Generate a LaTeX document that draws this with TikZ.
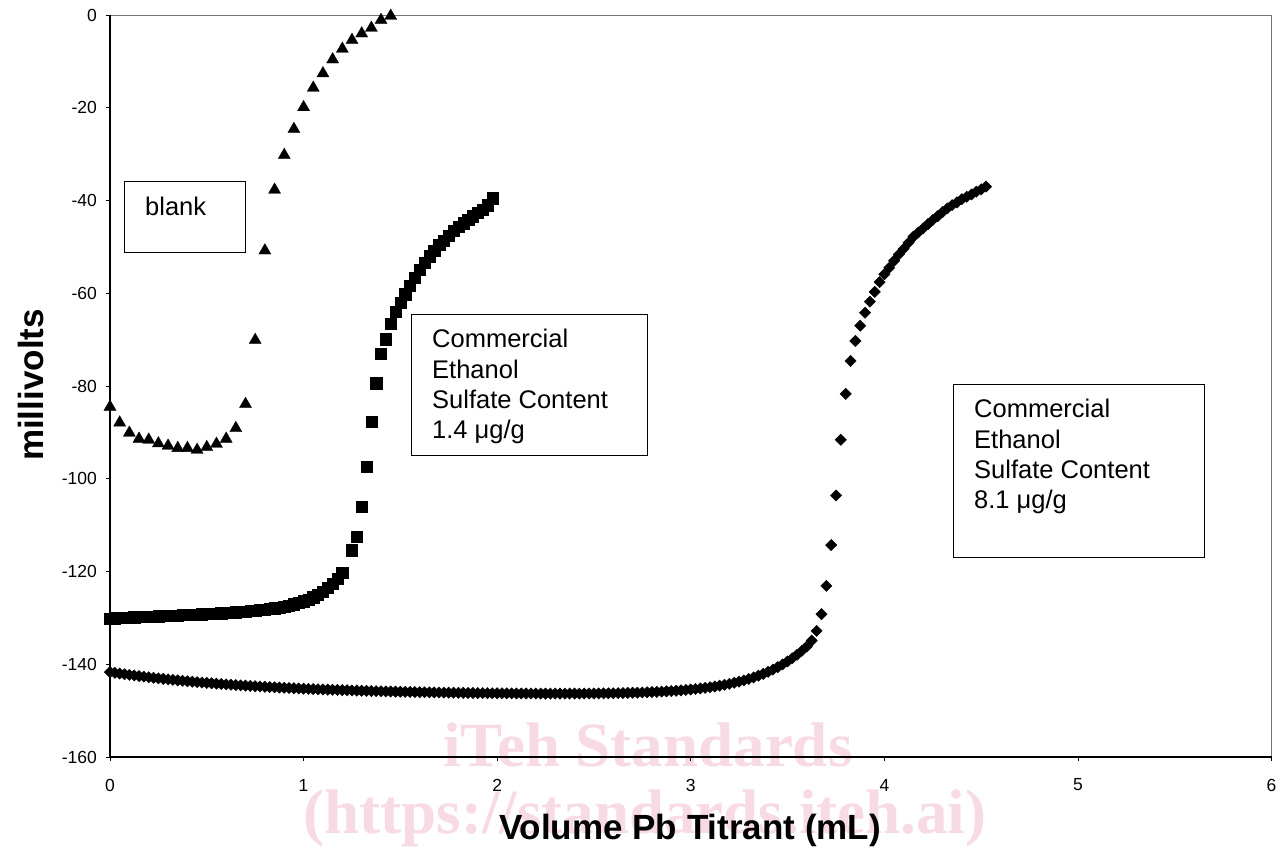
\documentclass[tikz,border=0pt]{standalone}
\usepackage{fontspec}
\setmainfont{Liberation Sans}
\newfontfamily\wmfont{Liberation Serif}
\usetikzlibrary{plotmarks}
\definecolor{wmpink}{RGB}{248,218,228}
\tikzset{
  ticklab/.style={font=\fontsize{17.5}{20}\selectfont, inner sep=0pt},
  axtitle/.style={font=\fontsize{35}{42}\selectfont\bfseries, inner sep=0pt},
  lbox/.style={draw=black, line width=1.1pt, anchor=north west, inner sep=0pt},
  lbtext/.style={font=\fontsize{25.5}{30}\selectfont, anchor=base west, inner sep=0pt},
  wm/.style={font=\fontsize{63}{70}\selectfont\wmfont\bfseries, text=wmpink, inner sep=0pt},
  trimark/.style={draw=black, fill=black, mark=triangle*, mark size=7pt, mark options={line width=0.3pt}},
  sqmark/.style={draw=black, fill=black, mark=square*, mark size=5.6pt, mark options={line width=0.4pt}},
  dimark/.style={draw=black, fill=black, mark=square*, mark size=4.0pt, mark options={rotate=45, line width=0.4pt}}
}
\begin{document}
\begin{tikzpicture}[x=1pt,y=1pt]
\useasboundingbox (0,0) rectangle (1283,851);
\fill[white] (0,0) rectangle (1283,851);

% watermark
\node[wm] (wm1) at (648,106) {iTeh Standards};
\node[wm] (wm2) at (645,33) {(https://standards.iteh.ai)};

\begin{scope}[shift={(110pt,836pt)}, x=193.6pt, y=4.6375pt]
  % plot frame
  \draw[line width=0.7pt, black!55] (0,0) -- (6,0) -- (6,-160);
  \draw[line width=1.5pt] (0,0) -- (0,-160) -- (6,-160);
  % y ticks
  \foreach \v in {0,-20,-40,-60,-80,-100,-120,-140,-160}{
    \draw[line width=0.8pt] (0,\v) -- ++(-4pt,0);
    \node[ticklab, anchor=east] (yl\v) at ([xshift=-13pt]0,\v) {\v};
  }
  % x ticks
  \foreach \u in {0,...,6}{
    \draw[line width=0.8pt] (\u,-160) -- ++(0,-4pt);
    \node[ticklab] (xl\u) at ([yshift=-28pt]\u,-160) {\u};
  }

  % blank series (triangles)
  \path[trimark] plot[only marks] coordinates {
    (0,-84.5) (0.05,-87.9) (0.10,-90.1) (0.15,-91.4) (0.20,-91.6) (0.25,-92.4)
    (0.30,-92.9) (0.35,-93.4) (0.40,-93.4) (0.45,-93.8) (0.50,-93.2) (0.55,-92.5)
    (0.60,-91.4) (0.65,-89.1) (0.70,-83.9) (0.75,-70.1) (0.80,-50.8) (0.85,-37.7)
    (0.90,-30.2) (0.95,-24.6) (1.00,-19.9) (1.05,-15.7) (1.10,-12.6) (1.15,-9.6)
    (1.20,-7.3) (1.25,-5.4) (1.30,-4.0) (1.35,-2.8) (1.40,-1.1) (1.45,-0.2)};

  % 1.4 ug/g series (squares)
  \path[sqmark] plot[only marks, domain=0:1.2, samples=49]
    (\x,{-130.1+1.8*\x+7.74*exp(7.06*(\x-1.2))});
  \path[sqmark] plot[only marks] coordinates {
    (1.25,-115.4) (1.275,-112.5) (1.30,-106.0) (1.325,-97.4) (1.35,-87.7)
    (1.375,-79.4) (1.40,-73.1) (1.425,-69.9) (1.45,-66.6) (1.475,-64.0)
    (1.50,-62.0) (1.525,-60.2) (1.55,-58.4) (1.575,-56.6) (1.60,-55.0)
    (1.625,-53.5) (1.65,-52.0) (1.675,-50.8) (1.70,-49.6) (1.725,-48.6)
    (1.75,-47.6) (1.775,-46.6) (1.80,-45.7) (1.825,-44.9) (1.85,-44.1)
    (1.875,-43.4) (1.90,-42.7) (1.925,-42.0) (1.95,-41.0) (1.975,-39.5)};

  % 8.1 ug/g series (diamonds)
  \path[dimark] plot[only marks, domain=0:3.6, samples=145]
    (\x,{-141.7-5.0*(1-exp(-\x/0.8))+10.5*exp(3.7*(\x-3.6))});
  \path[dimark] plot[only marks] coordinates {
    (3.625,-134.9) (3.65,-132.8) (3.675,-129.2) (3.70,-123.1) (3.725,-114.3)
    (3.75,-103.6) (3.775,-91.6) (3.80,-81.7) (3.825,-74.6) (3.85,-70.3)
    (3.875,-67.0) (3.90,-64.2) (3.925,-61.8) (3.95,-59.7) (3.975,-57.6)
    (4.00,-55.9) (4.025,-54.5) (4.05,-53.0) (4.075,-51.6) (4.10,-50.4)
    (4.125,-49.1) (4.15,-47.8) (4.175,-46.9) (4.20,-46.0) (4.225,-45.1)
    (4.25,-44.2) (4.275,-43.4) (4.30,-42.5) (4.325,-41.7) (4.35,-41.0)
    (4.375,-40.4) (4.40,-39.7) (4.425,-39.2) (4.45,-38.7) (4.475,-38.1)
    (4.50,-37.6) (4.525,-37.0)};
\end{scope}

% label boxes
\node[lbox, minimum width=121pt, minimum height=71pt] (bbox) at (124,670) {};
\node[lbtext] (btxt) at (145,635) {blank};

\node[lbox, minimum width=236pt, minimum height=141pt] (cbox1) at (411,537) {};
\node[lbtext] (ctxt1) at (432,503) {\parbox[t]{200pt}{\fontsize{25.5}{30.3}\selectfont Commercial\\Ethanol\\Sulfate Content\\1.4 μg/g}};

\node[lbox, minimum width=251pt, minimum height=173pt] (cbox2) at (953,467) {};
\node[lbtext] (ctxt2) at (974,433) {\parbox[t]{220pt}{\fontsize{25.5}{30.3}\selectfont Commercial\\Ethanol\\Sulfate Content\\8.1 μg/g}};

% axis titles
\node[axtitle] (xtitle) at (690,21) {Volume Pb Titrant (mL)};
\node[axtitle, rotate=90] (ytitle) at (31,466) {millivolts};
\end{tikzpicture}
\end{document}
